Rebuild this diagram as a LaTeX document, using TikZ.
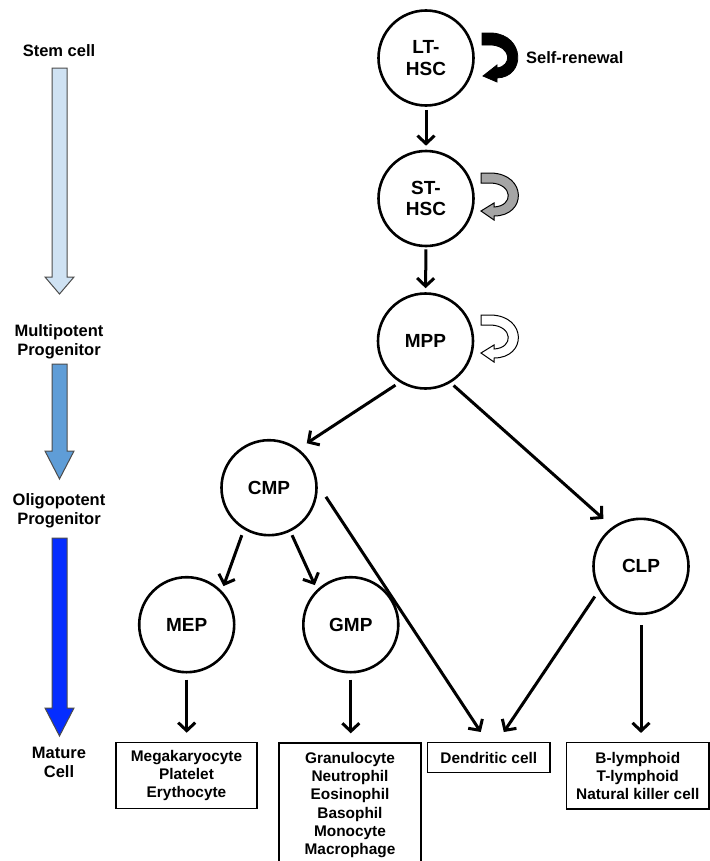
\documentclass[tikz,border=0pt]{standalone}
\usepackage{fontspec}
\setmainfont{Liberation Sans}
\usetikzlibrary{arrows.meta,calc}
\definecolor{lightblue}{RGB}{207,226,243}
\definecolor{midblue}{RGB}{95,157,215}
\definecolor{deepblue}{RGB}{5,45,255}
\definecolor{renewgray}{RGB}{165,165,165}
\tikzset{
  renew/.pic={
    \path[pic actions] (0,0) -- (10,0) .. controls (46,1) and (46,43) .. (13,43)
      -- (13,47) -- (0,38) -- (13,30) -- (13,34)
      .. controls (33,33) and (32,11) .. (10,10) -- (0,10) -- cycle;
  },
  renewthick/.pic={
    \path[pic actions] (0,0) -- (10,0) .. controls (43,2) and (44,44) .. (15,45)
      -- (15,49) -- (1,43) -- (15,32) -- (15,35)
      .. controls (30,33) and (30,14) .. (10,12) -- (0,12) -- cycle;
  }
}
\begin{document}
\begin{tikzpicture}[x=1bp,y=-1bp,
  cell/.style={circle,draw,line width=2.6bp,minimum size=95bp,inner sep=0pt,
    align=center,font=\fontsize{19bp}{21.5bp}\selectfont\bfseries},
  matbox/.style={draw,line width=1.4bp,align=center,inner sep=0pt,
    font=\fontsize{15.4bp}{18.3bp}\selectfont\bfseries},
  stage/.style={align=center,inner sep=0pt,
    font=\fontsize{16.5bp}{19bp}\selectfont\bfseries},
  link/.style={line width=3bp,-{Straight Barb[length=8bp,width=17bp]}},
  levelarrow/.style={draw=black!70,line width=1bp,fill=#1}
]
\clip (0,0) rectangle (710,861);
\fill[white] (0,0) rectangle (710,861);

% left stage column
\node[stage] (s1) at (59,51) {Stem cell};
\node[stage] (s2) at (59,342) {Multipotent\\Progenitor};
\node[stage] (s3) at (59,511) {Oligopotent\\Progenitor};
\node[stage] (s4) at (59,762) {Mature\\Cell};
\path[levelarrow=lightblue] (52,68) -- (67,68) -- (67,277) -- (74,277) -- (59.5,294) -- (45,277) -- (52,277) -- cycle;
\path[levelarrow=midblue] (52,364) -- (67,364) -- (67,451) -- (74,451) -- (59.5,479) -- (45,451) -- (52,451) -- cycle;
\path[levelarrow=deepblue] (52,538) -- (67,538) -- (67,708) -- (74,708) -- (59.5,736) -- (45,708) -- (52,708) -- cycle;

% cells
\node[cell] (lt) at (426,58) {LT-\\HSC};
\node[cell] (st) at (426,198.5) {ST-\\HSC};
\node[cell] (mpp) at (425.5,341) {MPP};
\node[cell] (cmp) at (269,487.7) {CMP};
\node[cell] (clp) at (641,566.3) {CLP};
\node[cell] (mep) at (186.7,624.7) {MEP};
\node[cell] (gmp) at (350.8,624.7) {GMP};

% self-renewal arrows
\pic[fill=black,draw=black,line width=0.8bp] at (482,33) {renewthick};
\pic[fill=renewgray,draw=black,line width=1bp] at (481,173) {renew};
\pic[fill=white,draw=black,line width=1bp] at (481,315) {renew};
\node[stage,anchor=west] (sr) at (526,58) {Self-renewal};

% mature cell boxes
\node[matbox,minimum width=141bp,minimum height=66bp] (mk) at (186.5,775.4) {Megakaryocyte\\Platelet\\Erythocyte};
\node[matbox,minimum width=142bp,minimum height=124bp] (gb) at (350,805) {Granulocyte\\Neutrophil\\Eosinophil\\Basophil\\Monocyte\\Macrophage};
\node[matbox,minimum width=122.5bp,minimum height=29.6bp] (dc) at (488.8,757.5) {Dendritic cell};
\node[matbox,minimum width=142.3bp,minimum height=66.3bp] (bl) at (637.8,775.8) {B-lymphoid\\T-lymphoid\\Natural killer cell};

% lineage connectors
\draw[link,shorten <=3bp,shorten >=4bp] (lt.south) -- (st.north);
\draw[link,shorten <=2bp,shorten >=4bp] (st.south) -- (mpp.north);
\draw[link,shorten <=5bp,shorten >=10bp] (mpp.238) -- (cmp.53.7);
\draw[link,shorten <=4bp,shorten >=12bp] (mpp.301.3) -- (clp.126.9);
\draw[link,shorten <=6bp,shorten >=5bp] (cmp.239.4) -- (mep.44.8);
\draw[link,shorten <=4bp,shorten >=5bp] (cmp.296.2) -- (gmp.134.3);
\draw[link,shorten <=15bp] (cmp.4.4) -- ($(dc.north)+(-8bp,10bp)$);
\draw[link,shorten <=7bp] (clp.210.7) -- ($(dc.north)+(15bp,10bp)$);
\draw[link,shorten <=6bp,shorten >=9bp] (mep.south) -- (mep.south |- mk.north);
\draw[link,shorten <=6bp,shorten >=9bp] (gmp.south) -- (gmp.south |- gb.north);
\draw[link,shorten <=10bp,shorten >=9bp] (clp.south) -- (clp.south |- bl.north);
\end{tikzpicture}
\end{document}
